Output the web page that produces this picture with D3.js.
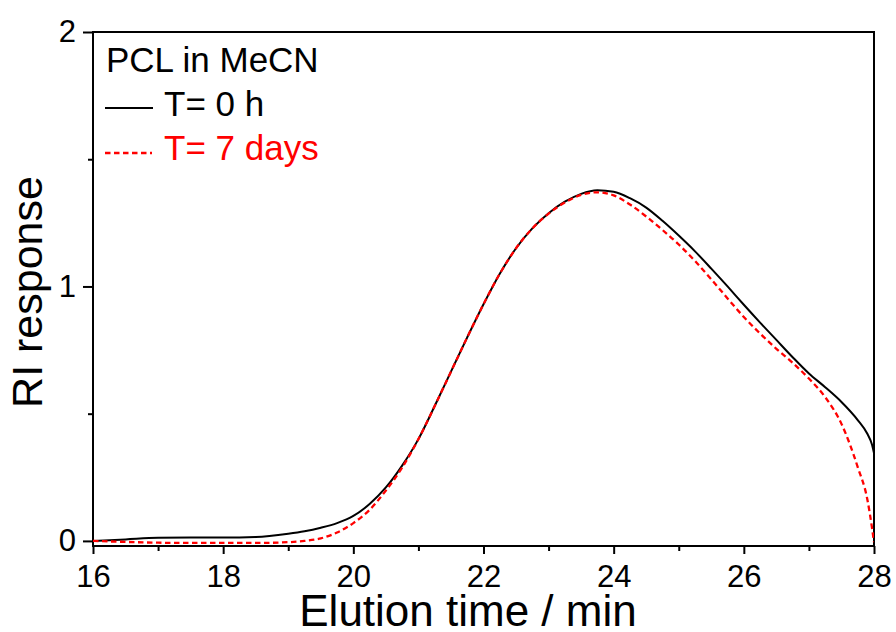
<!DOCTYPE html>
<html>
<head>
<meta charset="utf-8">
<script src="https://cdn.jsdelivr.net/npm/d3@7"></script>
<style>
  body { margin: 0; background: #fff; }
  text { font-family: "Liberation Sans", Arial, sans-serif; }
</style>
</head>
<body>
<script>
const svgWidth = 896;
const svgHeight = 632;

// elution time (min)
const times = [16, 16.5, 17, 17.5, 18, 18.5, 19, 19.25, 19.5, 19.75, 20, 20.25, 20.5, 20.75,
  21, 21.25, 21.5, 21.75, 22, 22.25, 22.5, 22.75, 23, 23.25, 23.5, 23.75, 24, 24.25,
  24.5, 24.75, 25, 25.25, 25.5, 25.75, 26, 26.25, 26.5, 26.75, 27, 27.25, 27.5, 27.75,
  27.9, 27.97, 28];

// T = 0 h
const rise0h = [0.0, 0.006, 0.012, 0.013, 0.013, 0.015, 0.028, 0.038, 0.052, 0.07, 0.098, 0.145, 0.21, 0.296,
  0.4, 0.53, 0.665, 0.8, 0.93, 1.05, 1.15, 1.228, 1.288, 1.333, 1.364, 1.378, 1.372, 1.347,
  1.31, 1.258, 1.2, 1.138, 1.07, 1.0, 0.928, 0.858, 0.79, 0.722, 0.658, 0.604, 0.546, 0.475,
  0.42, 0.378, 0.345];

// T = 7 days
const rise7d = [0.0, -0.004, -0.007, -0.008, -0.008, -0.008, -0.005, 0.0, 0.01, 0.033, 0.07, 0.122, 0.198, 0.288,
  0.4, 0.53, 0.665, 0.8, 0.93, 1.05, 1.15, 1.228, 1.286, 1.33, 1.36, 1.37, 1.358, 1.322,
  1.275, 1.222, 1.165, 1.1, 1.028, 0.953, 0.88, 0.815, 0.755, 0.7, 0.638, 0.565, 0.46, 0.29,
  0.16, 0.05, -0.005];

const xMajor = [16, 18, 20, 22, 24, 26, 28];
const xMinor = [17, 19, 21, 23, 25, 27];
const yMajor = [0, 1, 2];
const yMinor = [0.5, 1.5];

const margin = { top: 32, right: 22, bottom: 86, left: 93 };
const width = svgWidth - margin.left - margin.right;
const height = svgHeight - margin.top - margin.bottom;

const svg = d3.select('body')
              .append('svg')
              .attr('width', svgWidth)
              .attr('height', svgHeight);

const g = svg.append('g')
             .attr('transform', `translate(${margin.left},${margin.top})`);

const x = d3.scaleLinear().domain([16, 28]).range([0, width]);
const y = d3.scaleLinear().domain([-0.02, 2]).range([height, 0]);

// axes: minor ticks without labels, major ticks with labels
const xAxisMinor = g.append('g')
  .attr('transform', `translate(0,${height})`)
  .call(d3.axisBottom(x).tickValues(xMinor).tickSize(5).tickFormat(''));
const xAxisMajor = g.append('g')
  .attr('transform', `translate(0,${height})`)
  .call(d3.axisBottom(x).tickValues(xMajor).tickSize(8).tickPadding(11).tickFormat(d3.format('d')));
const yAxisMinor = g.append('g')
  .call(d3.axisLeft(y).tickValues(yMinor).tickSize(5).tickFormat(''));
const yAxisMajor = g.append('g')
  .call(d3.axisLeft(y).tickValues(yMajor).tickSize(10).tickPadding(7).tickFormat(d3.format('d')));

[xAxisMinor, xAxisMajor, yAxisMinor, yAxisMajor].forEach(a => {
  a.select('.domain').remove();
  a.selectAll('line').attr('stroke', '#000').attr('stroke-width', 2);
  a.selectAll('text').attr('font-size', 31).attr('fill', '#000')
   .style('font-family', '"Liberation Sans", Arial, sans-serif');
});

// frame
g.append('rect')
 .attr('x', 0).attr('y', 0)
 .attr('width', width).attr('height', height)
 .attr('fill', 'none')
 .attr('stroke', '#000')
 .attr('stroke-width', 2);

g.append('clipPath').attr('id', 'clip')
 .append('rect').attr('x', 0).attr('y', 0).attr('width', width).attr('height', height);

const line = d3.line()
  .x(d => x(d[0]))
  .y(d => y(d[1]))
  .curve(d3.curveMonotoneX);

g.append('path')
 .datum(times.map((t, i) => [t, rise0h[i]]))
 .attr('clip-path', 'url(#clip)')
 .attr('fill', 'none')
 .attr('stroke', '#000')
 .attr('stroke-width', 2)
 .attr('d', line);

g.append('path')
 .datum(times.map((t, i) => [t, rise7d[i]]))
 .attr('clip-path', 'url(#clip)')
 .attr('fill', 'none')
 .attr('stroke', '#ff0000')
 .attr('stroke-width', 2.3)
 .attr('stroke-dasharray', '5.5,3.5')
 .attr('d', line);

// axis titles
svg.append('text')
   .attr('x', 468)
   .attr('y', 626)
   .attr('text-anchor', 'middle')
   .attr('font-size', 44)
   .text('Elution time / min');

svg.append('text')
   .attr('transform', 'translate(42,292)rotate(-90)')
   .attr('text-anchor', 'middle')
   .attr('font-size', 43)
   .text('RI response');

// legend
svg.append('text')
   .attr('x', 106).attr('y', 72)
   .attr('font-size', 35)
   .text('PCL in MeCN');

svg.append('line')
   .attr('x1', 105).attr('x2', 153).attr('y1', 108).attr('y2', 108)
   .attr('stroke', '#000').attr('stroke-width', 2);
svg.append('text')
   .attr('x', 164).attr('y', 116)
   .attr('font-size', 35)
   .text('T= 0 h');

svg.append('line')
   .attr('x1', 105).attr('x2', 152).attr('y1', 153).attr('y2', 153)
   .attr('stroke', '#ff0000').attr('stroke-width', 2.3)
   .attr('stroke-dasharray', '5.5,3.5');
svg.append('text')
   .attr('x', 164).attr('y', 160)
   .attr('font-size', 35)
   .attr('fill', '#ff0000')
   .text('T= 7 days');
</script>
</body>
</html>
